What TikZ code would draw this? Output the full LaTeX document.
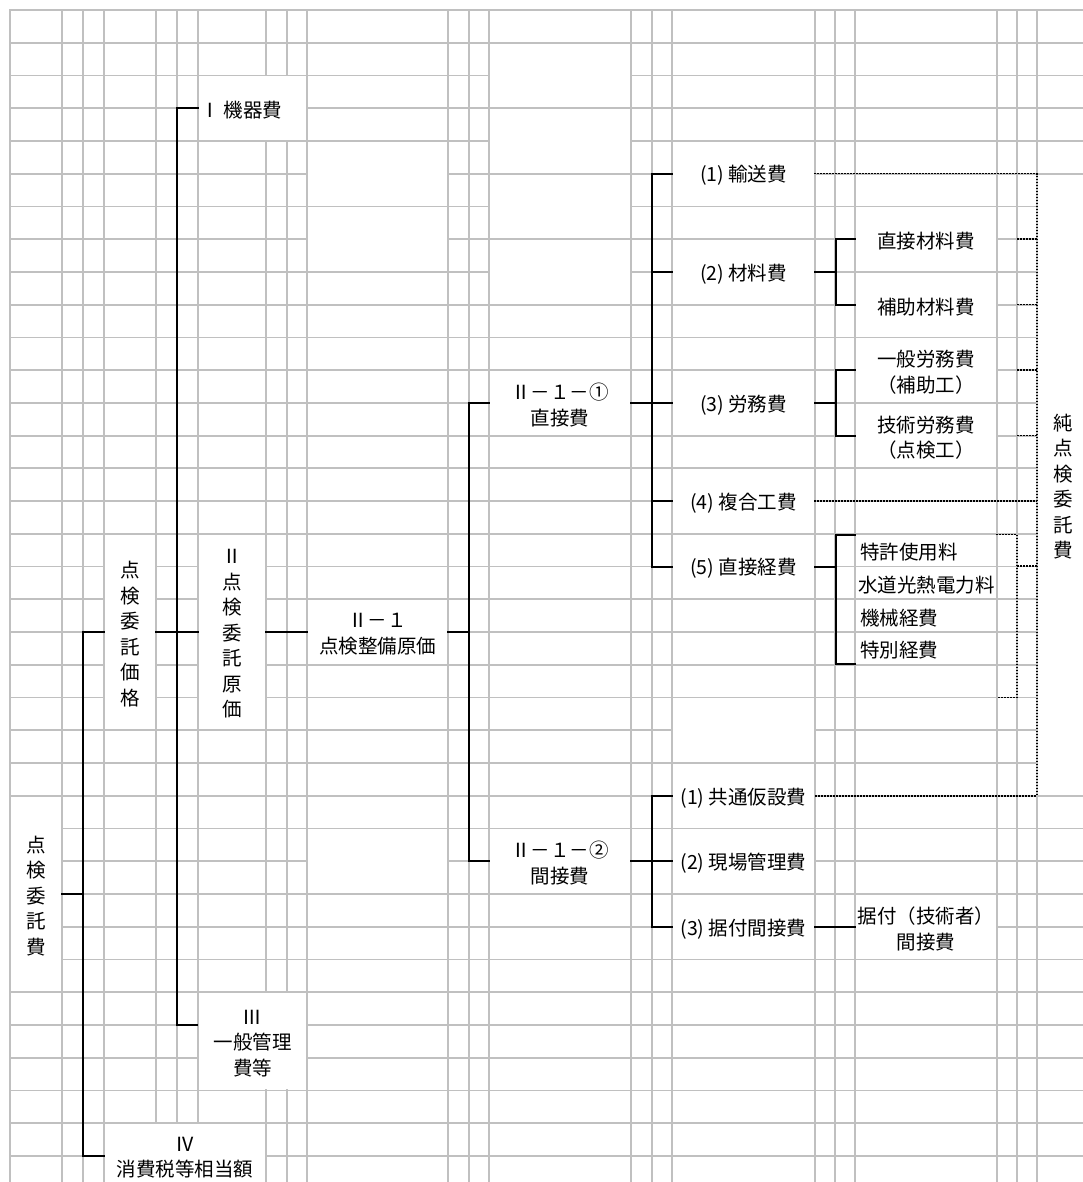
\documentclass[tikz,border=0pt]{standalone}
\usepackage{fontspec}
\usepackage{tikz}
\usetikzlibrary{calc,fit}
\newfontfamily\jp{Noto Sans CJK JP}
\definecolor{sheetgray}{RGB}{192,192,192}
\tikzset{
  sheet/.style={draw=sheetgray, line width=1.8pt, line cap=rect},
  bar/.style={draw=black, line width=2pt},
  dots/.style={draw=black, line width=1.5pt, dash pattern=on 1.5pt off 1.5pt},
  cell/.style={fill=white, inner sep=-1pt},
  txt/.style={inner sep=0pt, align=center, yshift=-2pt,
    font=\jp\fontsize{19.5}{25.5}\selectfont},
}
\newcommand\mergecell[4]{\fill[white] ($(#1,#2)+(1pt,-1pt)$) rectangle ($(#3,#4)+(-1pt,1pt)$);}
\newcommand\sheetcell[3]{%
  \node[cell, fit={#2}] (#1) {};
  \node[txt] (#1-t) at (#1.center) {#3};}
\newcommand\sheetcellL[4][4pt]{%
  \node[cell, fit={#3}] (#2) {};
  \node[txt, anchor=west] (#2-t) at ($(#2.west)+(#1,0)$) {#4};}

\begin{document}
\begin{tikzpicture}[x=1pt,y=-32.74pt]
\useasboundingbox (0,-0.3054) rectangle (1083,35.797);

% sheet grid
\foreach \x in {10,62,83,104,156,177,198,266,287,307,448,469,489,631,652,672,815,835,855,997,1017,1037}
    \draw[sheet] (\x,0) -- (\x,36);
\foreach \k in {0,...,35}
    \draw[sheet] (10,\k) -- (1090,\k);

% merged empty cells
\mergecell{307}{4}{448}{6}
\mergecell{307}{6}{448}{8}
\mergecell{307}{25}{448}{27}
\foreach \k in {1,3,5,7}{
    \mergecell{489}{\k}{631}{\k+2}
}
\mergecell{672}{21}{815}{23}

% cells with text
\sheetcell{itakuhi}{(10,24) (62,30)}{点\\検\\委\\託\\費}
\sheetcell{kakaku}{(104,16) (156,22)}{点\\検\\委\\託\\価\\格}
\sheetcell{shohi}{(104,34) (266,36)}{Ⅳ\\消費税等相当額}
\sheetcellL[1pt]{kiki}{(198,2) (307,4)}{Ⅰ 機器費}
\sheetcell{genka}{(198,16) (266,22)}{Ⅱ\\点\\検\\委\\託\\原\\価}
\sheetcell{kanri}{(198,30) (307,33)}{Ⅲ\\一般管理\\費等}
\sheetcell{seibi}{(307,18) (448,20)}{Ⅱ－１\\点検整備原価}
\sheetcell{choku}{(489,11) (631,13)}{Ⅱ－１－①\\直接費}
\sheetcell{kan}{(489,25) (631,27)}{Ⅱ－１－②\\間接費}

\sheetcell{yuso}{(672,4) (815,6)}{(1) 輸送費}
\sheetcell{zairyo}{(672,7) (815,9)}{(2) 材料費}
\sheetcell{romu}{(672,11) (815,13)}{(3) 労務費}
\sheetcell{fukugo}{(672,14) (815,16)}{(4) 複合工費}
\sheetcell{keihi}{(672,16) (815,18)}{(5) 直接経費}
\sheetcell{kyotsu}{(672,23) (815,25)}{(1) 共通仮設費}
\sheetcell{genba}{(672,25) (815,27)}{(2) 現場管理費}
\sheetcell{suetsuke}{(672,27) (815,29)}{(3) 据付間接費}

\sheetcell{chokuzai}{(855,6) (997,8)}{直接材料費}
\sheetcell{hojozai}{(855,8) (997,10)}{補助材料費}
\sheetcell{ippanro}{(855,10) (997,12)}{一般労務費\\（補助工）}
\sheetcell{gijutsu}{(855,12) (997,14)}{技術労務費\\（点検工）}
\sheetcellL{tokkyo}{(855,16) (997,17)}{特許使用料}
\sheetcellL[2pt]{suido}{(855,17) (997,18)}{水道光熱電力料}
\sheetcellL{kikai}{(855,18) (997,19)}{機械経費}
\sheetcellL{tokubetsu}{(855,19) (997,20)}{特別経費}
\sheetcell{gijutsusha}{(855,27) (997,29)}{据付（技術者）\\間接費}
\sheetcell{jun}{(1037,5) (1090,24)}{純\\点\\検\\委\\託\\費}

% trunks
\coordinate (t1) at (83,0);
\coordinate (t2) at (177,0);
\coordinate (t3) at (469,0);
\coordinate (t4) at (652,0);
\coordinate (t5) at (836,0);
\coordinate (t6) at (1037,0);
\coordinate (t7) at (1017,0);
\coordinate (kanriIn) at (198,31);
\coordinate (keihiEnd) at (997,21);

\draw[bar] (itakuhi.east) -- (itakuhi.east -| t1);
\draw[bar] (kakaku.west) -| (t1 |- shohi.west) -- (shohi.west);

\draw[bar] (kakaku.east) -- (genka.west);
\draw[bar] (kiki.west) -| (t2 |- kanriIn) -- (kanriIn);
\draw[bar] (genka.east) -- (seibi.west);

\draw[bar] (seibi.east) -- (seibi.east -| t3);
\draw[bar] (choku.west) -| (t3 |- kan.west) -- (kan.west);

\draw[bar] (choku.east) -- (choku.east -| t4);
\draw[bar] (yuso.west) -| (t4 |- keihi.west) -- (keihi.west);
\foreach \n in {zairyo,romu,fukugo}
    \draw[bar] (\n.west) -- (\n.west -| t4);

\draw[bar] (zairyo.east) -- (zairyo.east -| t5);
\draw[bar] (chokuzai.west) -| (t5 |- hojozai.west) -- (hojozai.west);
\draw[bar] (romu.east) -- (romu.east -| t5);
\draw[bar] (ippanro.west) -| (t5 |- gijutsu.west) -- (gijutsu.west);
\draw[bar] (keihi.east) -- (keihi.east -| t5);
\draw[bar] (tokkyo.north west) -| (t5 |- tokubetsu.south west) -- (tokubetsu.south west);

\draw[bar] (kan.east) -- (genba.west);
\draw[bar] (kyotsu.west) -| (t4 |- suetsuke.west) -- (suetsuke.west);
\draw[bar] (suetsuke.east) -- (gijutsusha.west);

% dotted
\draw[dots] (yuso.east) -- (yuso.east -| t6) -- (kyotsu.east -| t6) -- (kyotsu.east);
\draw[dots] (fukugo.east) -- (fukugo.east -| t6);
\foreach \n in {chokuzai,hojozai,ippanro,gijutsu}
    \draw[dots] (\n.east -| t7) -- (\n.east -| t6);
\draw[dots] (tokkyo.north east) -| (t7 |- keihiEnd) -- (keihiEnd);
\draw[dots] (t7 |- tokkyo.south) -- (t6 |- tokkyo.south);

\end{tikzpicture}
\end{document}
